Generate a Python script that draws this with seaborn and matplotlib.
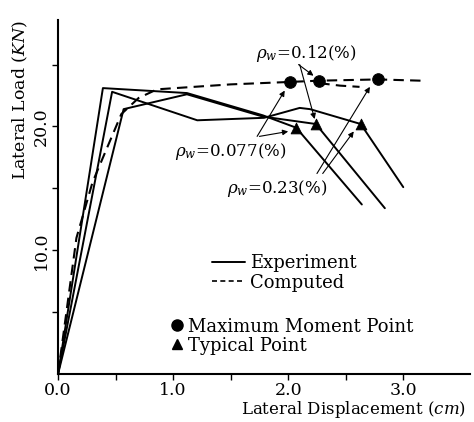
import numpy as np
import pandas as pd
import seaborn as sns
import matplotlib.pyplot as plt
from matplotlib.lines import Line2D

# Experiment curves (lateral displacement cm, lateral load KN)
exp_a_x = [0.0, 0.39, 1.12, 1.78, 2.07, 2.64]
exp_a_y = [0.0, 23.1, 22.7, 20.9, 19.9, 13.7]
exp_b_x = [0.0, 0.47, 1.21, 1.79, 2.10, 2.19, 2.63, 3.00]
exp_b_y = [0.0, 22.8, 20.5, 20.7, 21.5, 21.4, 20.2, 15.1]
exp_c_x = [0.0, 0.57, 1.12, 1.78, 2.24, 2.84]
exp_c_y = [0.0, 21.4, 22.6, 20.8, 20.2, 13.4]

# Computed curves
comp_x = [0.0, 0.16, 0.30, 0.55, 0.70, 0.86, 1.50, 2.02, 2.27, 2.78, 3.15]
comp_y = [0.0, 11.0, 15.5, 21.0, 22.3, 23.0, 23.4, 23.6, 23.7, 23.8, 23.7]
comp2_x = [2.27, 2.45, 2.62]
comp2_y = [23.5, 23.3, 23.2]

# Maximum moment points and typical points
max_x = [2.02, 2.27, 2.78]
max_y = [23.6, 23.7, 23.8]
typ_x = [2.07, 2.24, 2.63]
typ_y = [19.9, 20.2, 20.2]

rho_labels = ["0.077", "0.12", "0.23"]

sns.set_style("ticks")
plt.rcParams['font.family'] = ['DejaVu Serif']
plt.rcParams['mathtext.fontset'] = 'dejavuserif'
for k in ["text.color", "axes.labelcolor", "xtick.color", "ytick.color", "axes.edgecolor"]:
    plt.rcParams[k] = "black"

dpi = 100
fig = plt.figure(figsize=(474/dpi, 422/dpi), dpi=dpi)
ax = fig.add_axes([0.1224, 0.1135, 0.8692, 0.8391])

for xs, ys in [(exp_a_x, exp_a_y), (exp_b_x, exp_b_y), (exp_c_x, exp_c_y)]:
    sns.lineplot(x=xs, y=ys, sort=False, estimator=None, color="black", lw=1.4, ax=ax)
for xs, ys in [(comp_x, comp_y), (comp2_x, comp2_y)]:
    sns.lineplot(x=xs, y=ys, sort=False, estimator=None, color="black", lw=1.5,
                 dashes=False, linestyle=(0, (5, 3)), ax=ax)

sns.scatterplot(x=max_x, y=max_y, marker="o", s=70, color="black", edgecolor="black", ax=ax, zorder=5)
sns.scatterplot(x=typ_x, y=typ_y, marker="^", s=60, color="black", edgecolor="black", ax=ax, zorder=5)

# rho_w annotations
arr = dict(arrowstyle="-|>", lw=0.8, color="black", mutation_scale=8, shrinkA=0, shrinkB=0)
fs = 12
ax.text(1.50, 18.0, r"$\rho_w$=" + rho_labels[0] + "(%)", fontsize=fs, ha="center", va="center")
ax.annotate("", xy=(1.97, 22.9), xytext=(1.73, 19.2), arrowprops=arr)
ax.annotate("", xy=(2.00, 19.6), xytext=(1.75, 19.2), arrowprops=arr)

ax.text(2.16, 25.9, r"$\rho_w$=" + rho_labels[1] + "(%)", fontsize=fs, ha="center", va="center")
ax.annotate("", xy=(2.22, 24.1), xytext=(2.09, 25.0), arrowprops=arr)
ax.annotate("", xy=(2.23, 20.6), xytext=(2.10, 25.0), arrowprops=arr)

ax.text(1.90, 15.0, r"$\rho_w$=" + rho_labels[2] + "(%)", fontsize=fs, ha="center", va="center")
ax.annotate("", xy=(2.71, 23.2), xytext=(2.25, 16.2), arrowprops=arr)
ax.annotate("", xy=(2.57, 19.6), xytext=(2.30, 16.2), arrowprops=arr)

# legends
lfs = 13
line_handles = [Line2D([], [], color="black", lw=1.4),
                Line2D([], [], color="black", lw=1.2, linestyle=(0, (3, 2)))]
leg1 = ax.legend(line_handles, ["Experiment", "Computed"], loc="upper left",
                 bbox_to_anchor=(0.352, 0.365), frameon=False, fontsize=lfs,
                 handlelength=1.8, handletextpad=0.3, labelspacing=0.1, borderpad=0)
ax.add_artist(leg1)
mark_handles = [Line2D([], [], color="black", marker="o", ls="", ms=8),
                Line2D([], [], color="black", marker="^", ls="", ms=7)]
ax.legend(mark_handles, ["Maximum Moment Point", "Typical Point"], loc="upper left",
          bbox_to_anchor=(0.253, 0.185), frameon=False, fontsize=lfs,
          handlelength=0.6, handletextpad=0.3, labelspacing=0.05, borderpad=0)

ax.set_xlim(0, 3.58)
ax.set_ylim(0, 28.6)
ax.set_xticks([0, 1, 2, 3])
ax.set_xticklabels(["0.0", "1.0", "2.0", "3.0"], fontsize=12.5)
ax.set_xticks([0.5, 1.5, 2.5], minor=True)
ax.set_yticks([10, 20])
ax.set_yticklabels(["10.0", "20.0"], fontsize=12.5, rotation=90, va="center")
ax.set_yticks([5, 15, 25], minor=True)
ax.tick_params(which="both", direction="out", length=4, width=1, pad=2)
ax.set_xlabel(r"Lateral Displacement ($cm$)", fontsize=12, loc="right", labelpad=0)
ax.set_ylabel(r"Lateral Load ($KN$)", fontsize=12.5, loc="top", labelpad=2)
ax.xaxis.label.set_x(0.99)
sns.despine(ax=ax)
for s in ["left", "bottom"]:
    ax.spines[s].set_linewidth(1.5)

fig.savefig("out.png", dpi=dpi)
